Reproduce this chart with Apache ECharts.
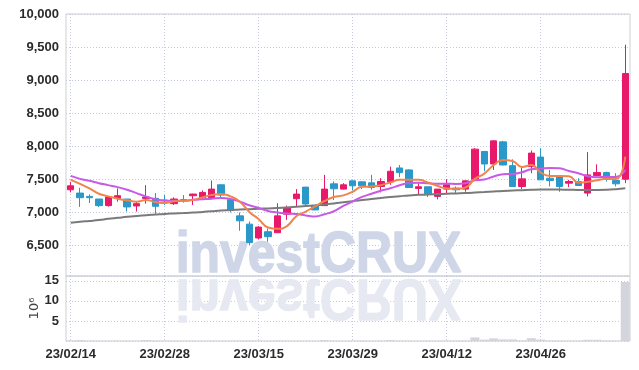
<!DOCTYPE html>
<html>
<head>
<meta charset="utf-8">
<script src="https://cdn.jsdelivr.net/npm/echarts@6/dist/echarts.min.js"></script>
<style>html,body{margin:0;padding:0;background:#fff}#c{width:639px;height:370px}</style>
</head>
<body>
<div id="c"></div>
<script>
const dates = ['23/02/14','23/02/15','23/02/16','23/02/17','23/02/20','23/02/21','23/02/22','23/02/23','23/02/24','23/02/27','23/02/28',
'23/03/02','23/03/03','23/03/06','23/03/07','23/03/08','23/03/09','23/03/10','23/03/13','23/03/14','23/03/15','23/03/16','23/03/17','23/03/20','23/03/21','23/03/22','23/03/23','23/03/24','23/03/27','23/03/28','23/03/29','23/03/30','23/03/31',
'23/04/03','23/04/04','23/04/05','23/04/06','23/04/07','23/04/10','23/04/11','23/04/12','23/04/13','23/04/14','23/04/17','23/04/18','23/04/19','23/04/20','23/04/21','23/04/24','23/04/25','23/04/26','23/04/27','23/04/28',
'23/05/02','23/05/03','23/05/04','23/05/08','23/05/09','23/05/10','23/05/11'];

const opens  = [7340,7290,7240,7200,7100,7210,7200,7095,7210,7210,7185,7130,7190,7250,7220,7220,7415,7190,6945,6820,6610,6705,6690,6970,7205,7380,7095,7100,7430,7350,7475,7460,7445,7390,7460,7670,7640,7360,7385,7240,7350,7365,7350,7500,7920,7730,8065,7705,7390,7690,7835,7515,7550,7440,7465,7290,7555,7600,7480,7500];
const closes = [7400,7220,7220,7100,7230,7250,7080,7130,7230,7090,7175,7200,7180,7275,7300,7350,7260,7025,6870,6540,6775,6630,6945,7070,7275,7125,7035,7350,7355,7415,7400,7400,7375,7465,7620,7600,7375,7385,7280,7350,7415,7340,7475,7955,7730,8080,7715,7390,7505,7895,7490,7480,7390,7465,7405,7565,7600,7500,7430,9100];
const lows   = [7300,7080,7140,7080,7085,7160,7010,7010,7130,6975,7110,7110,7145,7110,7195,7200,7200,6995,6720,6505,6590,6555,6690,6885,7085,7100,7030,7100,7185,7345,7330,7350,7340,7300,7415,7530,7370,7260,7230,7195,7290,7290,7310,7500,7620,7640,7710,7385,7350,7590,7490,7390,7310,7380,7400,7240,7540,7465,7390,7440];
const highs  = [7460,7370,7270,7200,7230,7360,7200,7160,7410,7290,7260,7225,7260,7280,7330,7480,7420,7190,6995,6860,6790,6755,7135,7100,7350,7380,7110,7565,7465,7440,7480,7465,7565,7515,7690,7715,7650,7450,7385,7350,7500,7390,7480,7970,7925,8085,8080,7800,7690,7935,7970,7640,7550,7490,7515,7910,7725,7615,7590,9535];

const ma5  = [7490,7430,7360,7280,7240,7205,7180,7160,7185,7155,7140,7165,7175,7185,7225,7260,7275,7240,7160,7005,6895,6770,6750,6790,6940,7010,7090,7170,7230,7255,7310,7385,7390,7410,7450,7490,7490,7490,7450,7400,7360,7355,7375,7505,7585,7715,7790,7775,7685,7715,7600,7550,7550,7545,7450,7460,7485,7505,7500,7840];
const ma10 = [7550,7505,7475,7440,7410,7380,7340,7290,7240,7198,7175,7172,7172,7188,7197,7205,7215,7200,7160,7105,7065,7018,6996,6980,6972,6952,6935,6970,7015,7095,7163,7232,7280,7325,7362,7408,7442,7446,7438,7432,7432,7428,7440,7482,7495,7542,7574,7580,7604,7650,7660,7671,7664,7625,7590,7545,7530,7535,7532,7644];
const ma60 = [6840,6855,6868,6882,6900,6915,6930,6943,6955,6965,6975,6982,6988,6995,7005,7015,7025,7032,7040,7046,7052,7058,7065,7073,7082,7093,7105,7118,7132,7150,7168,7185,7200,7215,7230,7243,7255,7263,7270,7275,7280,7285,7290,7297,7305,7314,7322,7328,7334,7340,7344,7345,7343,7340,7338,7338,7338,7340,7348,7362];

const volumes = [100000,250000,80000,70000,60000,90000,70000,60000,250000,80000,60000,70000,50000,90000,60000,80000,70000,60000,90000,120000,80000,70000,110000,60000,90000,70000,60000,250000,80000,60000,70000,90000,60000,80000,250000,90000,70000,60000,80000,70000,90000,80000,110000,900000,350000,650000,400000,400000,150000,700000,350000,110000,80000,70000,90000,300000,300000,110000,90000,14700000];

const candleData = opens.map((o, i) => [o, closes[i], lows[i], highs[i]]);

const UP = '#e8196a', DOWN = '#2a98c9';
const labelFont = "'Liberation Sans', Arial, sans-serif";
const splitStyle = { color: '#c6cbdf', width: 1, type: [1, 2] };
const wmFont = 'bold 58px "Liberation Sans", Arial, sans-serif';

const chart = echarts.init(document.getElementById('c'), null, { renderer: 'canvas' });
chart.setOption({
  animation: false,
  backgroundColor: '#fff',
  grid: [
    { left: 66, right: 9, top: 14, height: 262, show: true, borderColor: '#cfcfd6', borderWidth: 1, backgroundColor: 'transparent' },
    { left: 66, right: 9, top: 276, height: 65, show: true, borderColor: '#cfcfd6', borderWidth: 1, backgroundColor: 'transparent' }
  ],
  graphic: [
    { type: 'text', x: 318.5, y: 276, scaleX: 0.86, z: 1,
      style: { text: 'investCRUX', x: 0, y: 9, font: wmFont,
        fill: '#cfd6e8', stroke: '#cfd6e8', lineWidth: 1.5,
        textAlign: 'center', align: 'center', textVerticalAlign: 'bottom', verticalAlign: 'bottom' } },
    { type: 'text', x: 318.5, y: 276, scaleX: 0.86, scaleY: -1, z: 1,
      style: { text: 'investCRUX', x: 0, y: 9, font: wmFont,
        fill: '#e6e9f1', stroke: '#e6e9f1', lineWidth: 1.5,
        textAlign: 'center', align: 'center', textVerticalAlign: 'bottom', verticalAlign: 'bottom' } }
  ],
  xAxis: [
    { type: 'category', gridIndex: 0, data: dates, boundaryGap: true,
      axisLine: { show: false }, axisTick: { show: false }, axisLabel: { show: false },
      splitLine: { show: true, interval: 9, alignWithLabel: true, lineStyle: splitStyle } },
    { type: 'category', gridIndex: 1, data: dates, boundaryGap: true,
      axisLine: { show: false }, axisTick: { show: false },
      axisLabel: { interval: 9, margin: 7, fontFamily: labelFont, fontWeight: 'bold', fontSize: 13, color: '#2b2b2b' },
      splitLine: { show: true, interval: 9, alignWithLabel: true, lineStyle: splitStyle } }
  ],
  yAxis: [
    { type: 'value', gridIndex: 0, min: 6035, max: 10000, splitNumber: 8,
      axisLine: { show: false }, axisTick: { show: false },
      axisLabel: { showMinLabel: false, margin: 7, fontFamily: labelFont, fontWeight: 'bold', fontSize: 13, color: '#2b2b2b',
        formatter: v => v.toLocaleString('en-US') },
      splitLine: { show: true, lineStyle: splitStyle } },
    { type: 'value', gridIndex: 1, min: 0, max: 16200000, splitNumber: 3,
      name: '10\u2076', nameLocation: 'middle', nameRotate: 90, nameGap: 25, nameMoveOverlap: false,
      nameTextStyle: { fontFamily: 'DejaVu Sans', fontSize: 13, color: '#444' },
      axisLine: { show: false }, axisTick: { show: false },
      axisLabel: { showMinLabel: false, showMaxLabel: false, margin: 7, fontFamily: labelFont, fontWeight: 'bold', fontSize: 13, color: '#2b2b2b',
        formatter: v => String(v / 1000000) },
      splitLine: { show: true, lineStyle: splitStyle } }
  ],
  series: [
    { type: 'candlestick', xAxisIndex: 0, yAxisIndex: 0, data: candleData, barWidth: 7,
      itemStyle: { color: UP, color0: DOWN, borderColor: UP, borderColor0: DOWN, borderWidth: 1 } },
    { type: 'line', xAxisIndex: 0, yAxisIndex: 0, data: ma60, smooth: true, symbol: 'none',
      lineStyle: { color: '#7a7a7a', width: 2 } },
    { type: 'line', xAxisIndex: 0, yAxisIndex: 0, data: ma10, smooth: true, symbol: 'none',
      lineStyle: { color: '#c85ae8', width: 2 } },
    { type: 'line', xAxisIndex: 0, yAxisIndex: 0, data: ma5, smooth: true, symbol: 'none',
      lineStyle: { color: '#f0844c', width: 2 } },
    { type: 'bar', xAxisIndex: 1, yAxisIndex: 1, data: volumes, barCategoryGap: '4%',
      itemStyle: { color: '#d4d4dc' } }
  ]
});
</script>
</body>
</html>
